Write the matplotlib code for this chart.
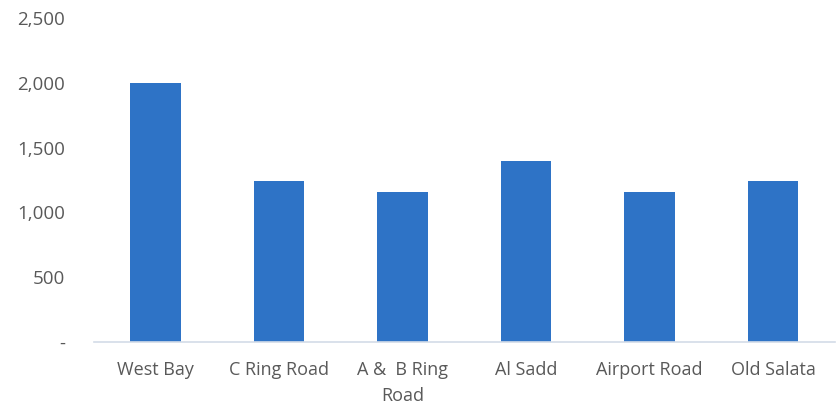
import matplotlib.pyplot as plt
from matplotlib.ticker import FuncFormatter

areas = ["West Bay", "C Ring Road", "A &  B Ring\nRoad", "Al Sadd", "Airport Road", "Old Salata"]
values = [2000, 1240, 1160, 1400, 1160, 1240]

BAR_COL = "#2E73C6"
TXT_COL = "#595959"

plt.rcParams["font.family"] = ["Open Sans", "DejaVu Sans"]

fig = plt.figure(figsize=(8.39, 4.09), dpi=100)
ax = fig.add_axes([0.112, 0.164, 0.883, 0.792])

x = range(len(areas))
ax.bar(x, values, width=0.41, color=BAR_COL)

ax.set_xlim(-0.5, len(areas) - 0.5)
ax.set_ylim(0, 2500)
ax.set_yticks(range(0, 2501, 500))
ax.yaxis.set_major_formatter(FuncFormatter(lambda v, _: "-" if v == 0 else f"{v:,.0f}"))
ax.set_xticks(list(x))
ax.set_xticklabels(areas, linespacing=1.55)

for side in ("top", "right", "left"):
    ax.spines[side].set_visible(False)
ax.spines["bottom"].set_color("#D3DCE8")
ax.spines["bottom"].set_linewidth(1.2)

ax.tick_params(axis="both", length=0, colors=TXT_COL)
ax.tick_params(axis="x", pad=14, labelsize=13)
ax.tick_params(axis="y", pad=21, labelsize=13.5)
for lbl in ax.get_yticklabels():
    lbl.set_horizontalalignment("right")

fig.savefig("out.png", dpi=100)
